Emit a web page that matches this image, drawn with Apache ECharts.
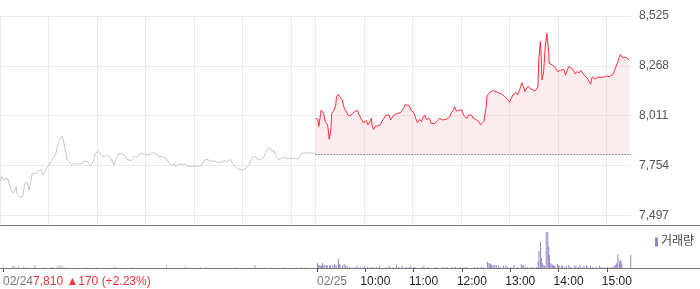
<!DOCTYPE html>
<html><head><meta charset="utf-8">
<script src="https://cdn.jsdelivr.net/npm/echarts@6/dist/echarts.min.js"></script>
<style>html,body{margin:0;padding:0;background:#fff}#c{width:700px;height:289px}</style>
</head><body><div id="c"></div>
<script>
// ---- data ----
const dayLength = 390; // minutes per session (09:00-15:30)
const prevMin = [0,2,4,7,10,12,14,17,20,21,23,25,28,30,32,34,36,38,40,42,44,47,49,51,53,55,57,59,61,63,65,67,69,71,73,75,77,80,81,83,85,87,89,91,94,96,98,100,102,104,106,108,110,112,114,116,118,120,122,124,126,129,131,133,135,137,139,141,143,145,147,149,151,153,155,157,159,162,164,166,168,170,172,174,176,178,180,182,184,186,188,190,192,194,197,199,201,203,205,207,209,211,213,215,217,219,221,223,225,227,229,232,234,236,238,240,242,244,246,248,250,252,254,256,258,260,262,265,267,269,271,273,275,277,279,281,283,285,287,289,291,293,295,297,300,302,304,306,308,310,312,314,316,318,320,322,324,326,328,330,333,335,337,339,341,343,345,347,349,351,353,355,357,359,361,363,365,368,370,372,374,376,378,380,382,384,386,388,390];
const prevPrice = [7670,7696,7679,7688,7683,7679,7619,7614,7645,7610,7602,7590,7593,7645,7670,7658,7627,7636,7713,7717,7713,7722,7713,7734,7705,7717,7739,7748,7756,7774,7786,7782,7817,7851,7885,7877,7906,7851,7842,7782,7774,7765,7753,7765,7762,7769,7762,7770,7765,7777,7786,7774,7779,7751,7765,7782,7817,7813,7825,7817,7803,7799,7796,7808,7799,7791,7782,7756,7786,7799,7817,7825,7813,7808,7803,7786,7796,7779,7786,7799,7791,7799,7803,7817,7820,7813,7803,7808,7808,7813,7817,7820,7813,7808,7799,7803,7799,7803,7791,7782,7769,7765,7751,7765,7748,7756,7762,7769,7760,7756,7762,7751,7756,7748,7739,7751,7748,7751,7756,7751,7762,7765,7786,7779,7782,7774,7774,7779,7775,7769,7774,7769,7774,7779,7769,7774,7782,7786,7769,7762,7748,7739,7734,7739,7731,7722,7739,7734,7756,7782,7799,7791,7799,7786,7786,7786,7782,7796,7817,7834,7848,7830,7820,7830,7803,7796,7782,7786,7799,7803,7791,7786,7791,7786,7791,7786,7791,7786,7791,7813,7817,7820,7820,7817,7820,7820,7820,7817,7817];
const todayMin = [0,3,4,7,10,12,14,15,17,19,20,23,25,26,28,30,33,35,37,39,41,44,46,48,50,52,54,56,59,61,63,65,67,69,70,72,74,77,80,82,84,87,89,91,93,95,97,99,101,103,105,107,109,111,113,116,118,120,122,124,126,129,131,133,135,137,139,141,143,145,147,149,151,153,155,157,159,162,164,166,168,170,172,174,176,178,180,181,183,185,187,189,191,193,195,198,200,202,204,206,208,210,211,212,214,216,219,221,223,225,227,230,232,234,236,238,240,242,244,246,248,250,252,253,255,257,259,261,263,265,267,269,272,274,275,276,278,279,280,282,283,284,286,287,288,289,290,293,295,297,299,301,303,305,307,309,311,313,315,317,319,321,323,326,328,330,332,334,336,338,340,342,344,346,348,350,352,354,356,358,360,363,365,367,369,371,373,375,377,379,381,384,386,388];
const todayPrice = [7997,7992,7954,8040,8023,7980,7975,7963,7889,7937,8023,8040,8066,8109,8121,8109,8092,8057,8040,8049,8009,8014,8014,8032,8023,8037,8014,8014,7975,7971,7985,7963,7971,7997,7958,7940,7958,7958,7963,7980,7989,8014,8006,8014,7989,7997,8014,8006,8023,8023,8026,8023,8049,8069,8066,8061,8040,8032,8023,7997,7975,7992,7980,8002,8014,7992,7989,7997,7971,7963,7971,7980,7985,7997,8002,7989,7997,7992,7989,8006,8026,8037,8057,8035,8032,8040,8032,8040,8014,8023,7997,8014,8006,8014,7997,7992,7989,7980,7963,7968,7980,7989,8057,8109,8126,8135,8140,8130,8135,8126,8126,8123,8118,8109,8104,8092,8080,8100,8118,8109,8130,8118,8114,8152,8181,8160,8135,8152,8164,8152,8143,8143,8140,8135,8160,8298,8393,8315,8195,8238,8246,8367,8436,8444,8350,8281,8289,8272,8272,8255,8238,8229,8246,8238,8250,8221,8229,8264,8267,8255,8243,8226,8238,8233,8246,8250,8221,8212,8204,8195,8173,8212,8209,8198,8209,8202,8209,8204,8209,8212,8216,8212,8204,8221,8238,8246,8281,8307,8327,8312,8312,8312,8310,8298];
const prevVolMin = [1,5,12,14,15,17,20,26,27,31,40,41,52,61,62,63,68,69,70,72,73,75,79,104,117,138,140,141,161,204,227,229,246,253,289,313,314,325,334,351,366,371,377];
const prevVol = [8,3,6,6,6,3,8,6,3,3,8,6,3,3,3,3,6,6,8,8,6,6,3,3,3,6,3,3,3,11,6,3,3,3,3,6,8,3,3,3,3,3,3];
const todayVolMin = [0,1,2,4,5,6,7,9,11,12,15,16,19,21,23,26,27,28,31,33,35,37,40,46,49,53,58,62,66,69,73,77,85,89,94,98,101,105,110,114,116,120,121,129,132,137,147,156,161,167,171,177,182,185,195,199,203,206,211,213,214,215,216,218,220,222,225,227,231,234,236,240,244,248,253,255,256,258,261,265,268,272,274,275,277,278,279,281,282,284,286,287,288,289,291,292,293,294,295,298,299,300,303,304,307,309,312,314,319,321,324,326,329,331,334,336,339,342,346,350,352,356,360,363,366,368,370,371,372,373,375,376,377,378,389];
const todayVol = [14,8,8,6,6,14,8,8,6,8,6,8,8,11,8,25,11,8,6,11,8,6,3,3,6,3,6,3,3,3,3,6,3,6,3,8,3,6,3,3,6,3,3,3,6,3,3,3,3,3,3,3,3,3,3,3,3,3,17,14,14,11,8,8,8,8,8,3,6,8,3,3,8,3,11,8,6,3,3,3,3,3,17,47,72,28,14,8,6,100,100,61,36,14,11,8,6,6,6,11,8,6,6,6,3,6,8,3,6,6,3,8,3,6,8,3,6,3,3,6,3,3,3,3,3,6,8,14,11,39,17,22,19,11,36];
const priceTicks = [7497, 7754, 8011, 8268, 8525];
const gridMinutes = [0,60,120,180,240,300,360,390,450,510,570,630,690,750];
const dateTickMin = [0, 390];
const dateLabels = ['02/24', '02/25'];
const timeTickMin = [450, 510, 570, 630, 690, 750];
const timeLabels = ['10:00', '11:00', '12:00', '13:00', '14:00', '15:00'];
const prevClose = 7810, prevChange = 170, prevChangePct = 2.23;
const volName = '거래량';

// ---- chart ----
const FONT = '"Liberation Sans", Arial, "Noto Sans CJK KR", sans-serif';
const xMax = dayLength * 2;
const chart = echarts.init(document.getElementById('c'), null, {renderer: 'canvas'});
const prevData = prevMin.map((m, i) => [m, prevPrice[i]]);
const todayData = todayMin.map((m, i) => [dayLength + m, todayPrice[i]]);
const prevVolData = prevVolMin.map((m, i) => [m, prevVol[i]]);
const todayVolData = todayVolMin.map((m, i) => [dayLength + m, todayVol[i]]);
const fmt = v => Number(v).toLocaleString('en-US');

chart.setOption({
  animation: false,
  textStyle: {fontFamily: FONT},
  grid: [
    {left: 0, top: 16, width: 631, height: 209},
    {left: 0, top: 228, width: 631, height: 40}
  ],
  legend: {
    data: [volName], left: 650, top: 231, icon: 'rect', itemWidth: 3, itemHeight: 9,
    itemGap: 0, selectedMode: false,
    textStyle: {fontSize: 12, color: '#444', fontFamily: FONT, padding: [0, 0, 0, -2]}
  },
  xAxis: [
    {type: 'value', gridIndex: 0, min: 0, max: xMax,
     axisLine: {show: false}, axisLabel: {show: false},
     axisTick: {show: false, customValues: gridMinutes},
     splitLine: {show: true, lineStyle: {color: '#ebebeb', width: 1}}},
    {type: 'value', gridIndex: 1, min: 0, max: xMax, position: 'bottom',
     axisLine: {show: false}, splitLine: {show: false},
     axisTick: {show: true, length: 4, lineStyle: {color: '#555'}, customValues: dateTickMin},
     axisLabel: {customValues: dateTickMin, align: 'left', margin: 8, fontSize: 12,
       formatter: v => {
         const i = dateTickMin.indexOf(v);
         if (i === 0) return '{d|' + dateLabels[0] + '}{r|' + fmt(prevClose) + ' \u25B2' + prevChange + ' (+' + prevChangePct.toFixed(2) + '%)}';
         return '{d|' + dateLabels[i] + '}';
       },
       rich: {d: {color: '#777', fontSize: 12, fontFamily: FONT}, r: {color: '#f0323c', fontSize: 12, fontFamily: FONT}}}},
    {type: 'value', gridIndex: 1, min: 0, max: xMax, position: 'bottom',
     axisLine: {show: false}, splitLine: {show: false},
     axisTick: {show: true, length: 4, lineStyle: {color: '#555'}, customValues: timeTickMin},
     axisLabel: {customValues: timeTickMin, align: 'center', margin: 8, fontSize: 12,
       formatter: v => '{t|' + timeLabels[timeTickMin.indexOf(v)] + '}',
       rich: {t: {color: '#222', fontSize: 12, fontFamily: FONT, padding: [0, 0, 0, 20]}}}}
  ],
  yAxis: [
    {type: 'value', gridIndex: 0, position: 'right', min: 7447, max: 8525,
     axisLine: {show: false},
     axisTick: {show: false, customValues: priceTicks},
     axisLabel: {customValues: priceTicks, margin: 8, color: '#555', fontSize: 12, formatter: fmt},
     splitLine: {show: true, lineStyle: {color: '#ebebeb', width: 1}}},
    {type: 'value', gridIndex: 1, min: 0, max: 111, show: false, splitLine: {show: false}}
  ],
  series: [
    {name: 'prev', type: 'line', xAxisIndex: 0, yAxisIndex: 0, data: prevData,
     showSymbol: false, lineStyle: {color: '#c6c6ca', width: 1}, itemStyle: {color: '#c6c6ca'}, silent: true},
    {name: 'today', type: 'line', xAxisIndex: 0, yAxisIndex: 0, data: todayData,
     showSymbol: false, lineStyle: {color: '#ff2d3c', width: 1}, itemStyle: {color: '#ff2d3c'},
     areaStyle: {origin: prevClose, color: 'rgba(248, 190, 196, 0.42)'}, silent: true,
     markLine: {silent: true, symbol: 'none', label: {show: false},
       lineStyle: {type: [1, 2], color: '#444', width: 1},
       data: [[{coord: [dayLength, prevClose]}, {coord: [xMax, prevClose]}]]}},
    {name: 'prevVol', type: 'bar', xAxisIndex: 1, yAxisIndex: 1, data: prevVolData,
     barWidth: 1, itemStyle: {color: '#c9c9c9'}, silent: true},
    {name: volName, type: 'bar', xAxisIndex: 1, yAxisIndex: 1, data: todayVolData,
     barWidth: 1, itemStyle: {color: '#9884c7'}, silent: true}
  ],
  graphic: [
    {type: 'line', shape: {x1: 0, y1: 225.5, x2: 700, y2: 225.5}, style: {stroke: '#7a7a7a', lineWidth: 1}, silent: true},
    {type: 'line', shape: {x1: 0, y1: 268.5, x2: 700, y2: 268.5}, style: {stroke: '#7a7a7a', lineWidth: 1}, silent: true}
  ]
});
</script>
</body></html>
